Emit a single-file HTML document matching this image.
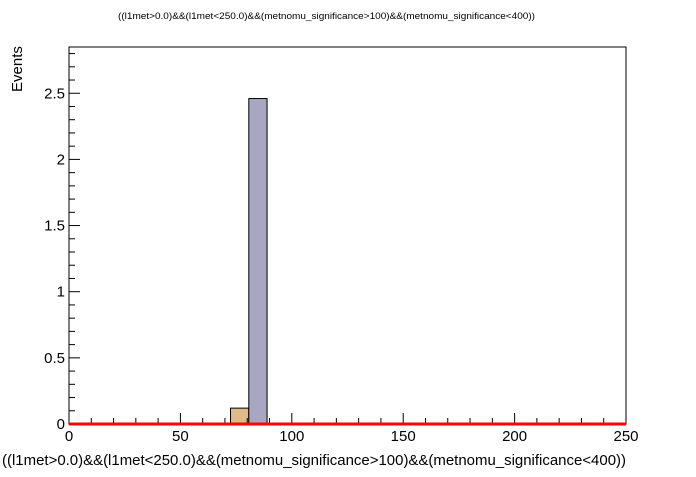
<!DOCTYPE html>
<html><head><meta charset="utf-8"><style>
body{margin:0;background:#fff;width:696px;height:472px;overflow:hidden;font-family:"Liberation Sans",sans-serif}
</style></head><body>
<svg id="c" width="696" height="472" xmlns="http://www.w3.org/2000/svg" font-family="Liberation Sans, sans-serif">
<text x="118" y="19" font-size="9" textLength="417" lengthAdjust="spacingAndGlyphs">((l1met&gt;0.0)&amp;&amp;(l1met&lt;250.0)&amp;&amp;(metnomu_significance&gt;100)&amp;&amp;(metnomu_significance&lt;400))</text>
<text x="2" y="465" font-size="15" textLength="624" lengthAdjust="spacingAndGlyphs">((l1met&gt;0.0)&amp;&amp;(l1met&lt;250.0)&amp;&amp;(metnomu_significance&gt;100)&amp;&amp;(metnomu_significance&lt;400))</text>
<text transform="translate(22,92) rotate(-90)" font-size="15" text-anchor="start">Events</text>
<g id="bars"></g><g id="axes"></g>
</svg>
<script>
const binLo=[72.5,80.7];
const binHi=[80.7,88.9];
const valOrange=[0.12,0];
const valPurple=[0,2.46];
const xTicks=[0,50,100,150,200,250];
const yTicks=[0,0.5,1,1.5,2,2.5];
const yTickLabels=["0","0.5","1","1.5","2","2.5"];
const L=69,R=626,T=47,B=424;
const X=v=>L+(v/250)*(R-L);
const Y=v=>B-v*132.3;
const NS="http://www.w3.org/2000/svg";
function mk(t,a,p){const e=document.createElementNS(NS,t);for(const k in a)e.setAttribute(k,a[k]);p.appendChild(e);return e;}
const bars=document.getElementById('bars'),axes=document.getElementById('axes');
for(let i=0;i<binLo.length;i++){
 if(valOrange[i]>0){const r=mk('rect',{x:X(binLo[i]),y:Y(valOrange[i]),width:X(binHi[i])-X(binLo[i]),height:B-Y(valOrange[i]),fill:'#dfbb89',stroke:'#000','stroke-width':1},bars);
 
 }
 if(valPurple[i]>0){const r=mk('rect',{x:X(binLo[i]),y:Y(valPurple[i]),width:X(binHi[i])-X(binLo[i]),height:B-Y(valPurple[i]),fill:'#a9a6c1',stroke:'#000','stroke-width':1},bars);
 
 }
}
const f=mk('rect',{x:L,y:T,width:R-L,height:B-T,fill:'none',stroke:'#000','stroke-width':1},axes);


for(let v=0;v<=250;v+=10){const maj=v%50===0;mk('line',{x1:X(v),x2:X(v),y1:B,y2:B-(maj?11:6),stroke:'#000'},axes);}
xTicks.forEach(v=>{const t=mk('text',{x:X(v),y:441,'font-size':15,'text-anchor':'middle'},axes);t.textContent=v;
 
 });
for(let k=0;k<=28;k++){const v=k/10;const maj=k%5===0;mk('line',{x1:L,x2:L+(maj?11:6),y1:Y(v),y2:Y(v),stroke:'#000'},axes);}
yTicks.forEach((v,i)=>{const t=mk('text',{x:L-4,y:Y(v)+5,'font-size':15,'text-anchor':'end'},axes);t.textContent=yTickLabels[i];
 
 });
const rl=mk('line',{x1:L,x2:R,y1:B,y2:B,stroke:'#f00','stroke-width':3},axes);


</script>
</body></html>
